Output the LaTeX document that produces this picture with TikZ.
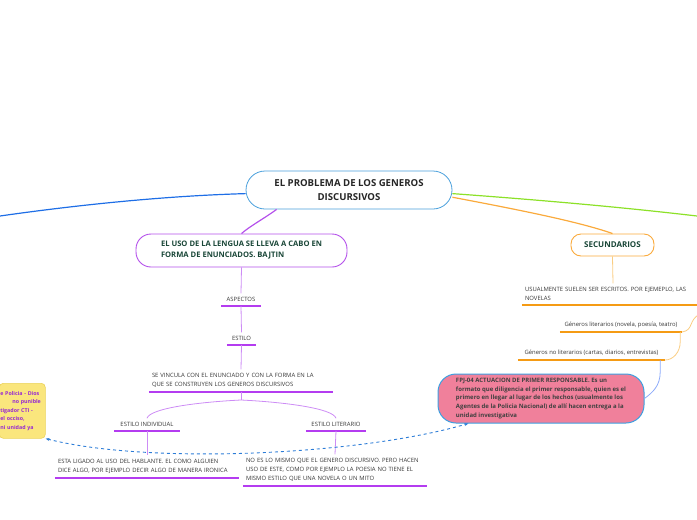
\documentclass[tikz,border=0pt]{standalone}
\usepackage{fontspec}
\setmainfont{Open Sans}
\usetikzlibrary{positioning, arrows.meta, calc}
\definecolor{rootblue}{RGB}{74, 160, 220}
\definecolor{branchblue}{RGB}{30, 110, 230}
\definecolor{branchgreen}{RGB}{140, 225, 40}
\definecolor{branchorange}{RGB}{250, 170, 60}
\definecolor{topicpurple}{RGB}{180, 80, 235}
\definecolor{linepurple}{RGB}{180, 60, 240}
\definecolor{connpurple}{RGB}{205, 140, 245}
\definecolor{lineorange}{RGB}{245, 155, 20}
\definecolor{connorange}{RGB}{250, 205, 130}
\definecolor{connblue}{RGB}{140, 170, 250}
\definecolor{darkgreen}{RGB}{25, 70, 55}
\definecolor{textgray}{RGB}{55, 55, 55}
\definecolor{notepink}{RGB}{240, 128, 155}
\definecolor{noteblue}{RGB}{60, 160, 225}
\definecolor{noteyellow}{RGB}{250, 230, 125}
\definecolor{yellowedge}{RGB}{235, 210, 90}
\definecolor{notepurple}{RGB}{150, 40, 210}
\definecolor{dashblue}{RGB}{45, 125, 215}

\begin{document}
\begin{tikzpicture}[
    x=1pt, y=-1pt,
    root/.style={draw=rootblue, line width=0.8pt, fill=white, rounded corners=19pt, minimum width=206pt, minimum height=38pt, align=center, font=\bfseries\fontsize{9.6}{14}\selectfont, text=black!85},
    topic/.style={draw=topicpurple, line width=0.9pt, fill=white, rounded corners=15pt, align=left, font=\bfseries\fontsize{7.6}{11}\selectfont, text=darkgreen},
    sectopic/.style={draw=branchorange, line width=0.9pt, fill=white, rounded corners=10pt, font=\bfseries\fontsize{8}{9}\selectfont, text=darkgreen},
    leaf/.style={inner xsep=3pt, inner ysep=4pt, align=left, font=\fontsize{5.9}{9}\selectfont, text=textgray},
    note/.style={draw=noteblue, fill=notepink, line width=1pt, rounded corners=18pt, align=left, font=\bfseries\fontsize{6}{8.7}\selectfont, text=black!75},
    yellownote/.style={draw=yellowedge, fill=noteyellow, line width=0.6pt, rounded corners=4pt, align=left, font=\bfseries\fontsize{5.3}{8.5}\selectfont, text=notepurple},
    pline/.style={linepurple, line width=1.6pt},
    oline/.style={lineorange, line width=1.6pt},
    pconn/.style={connpurple, line width=0.8pt},
    oconn/.style={connorange, line width=0.8pt},
    branch/.style={line width=1.2pt}
]
    \clip (0,0) rectangle (697,520);

    % Main topics
    \node[root] (root) at (349,190) {EL PROBLEMA DE LOS GENEROS\\DISCURSIVOS};
    \node[topic, minimum width=211pt, minimum height=33pt] (uso) at (241.5,250.5) {EL USO DE LA LENGUA SE LLEVA A CABO EN\\FORMA DE ENUNCIADOS. BAJTIN};
    \node[sectopic, minimum width=83pt, minimum height=22pt] (secundarios) at (612.5,245) {SECUNDARIOS};

    % Left branch leaves
    \node[leaf, minimum width=39pt, anchor=south] (aspectos) at (241,306) {ASPECTOS};
    \node[leaf, minimum width=29pt, anchor=south] (estilo) at (241.5,345) {ESTILO};
    \node[leaf, text width=178pt, anchor=south] (vincula) at (241,392) {SE VINCULA CON EL ENUNCIADO Y CON LA FORMA EN LA\\QUE SE CONSTRUYEN LOS GENEROS DISCURSIVOS};
    \node[leaf, minimum width=65pt, anchor=south] (individual) at (147,431) {ESTILO INDIVIDUAL};
    \node[leaf, text width=178pt, anchor=south] (ligado) at (147,478) {ESTA LIGADO AL USO DEL HABLANTE. EL COMO ALGUIEN\\DICE ALGO, POR EJEMPLO DECIR ALGO DE MANERA IRONICA};
    \node[leaf, minimum width=60pt, anchor=south] (literario) at (336,431) {ESTILO LITERARIO};
    \node[leaf, text width=178pt, anchor=south] (nomismo) at (335,486) {NO ES LO MISMO QUE EL GENERO DISCURSIVO. PERO HACEN\\USO DE ESTE, COMO POR EJEMPLO LA POESIA NO TIENE EL\\MISMO ESTILO QUE UNA NOVELA O UN MITO};

    % Right branch leaves
    \node[leaf, text width=176pt, anchor=south] (usualmente) at (613,305) {USUALMENTE SUELEN SER ESCRITOS. POR EJEMEPLO, LAS\\NOVELAS};
    \node[leaf, minimum width=122pt, anchor=south] (generoslit) at (621,332) {Géneros literarios (novela, poesía, teatro)};
    \node[leaf, minimum width=147pt, anchor=south] (generosno) at (591.5,360) {Géneros no literarios (cartas, diarios, entrevistas)};

    % Notes
    \node[note, minimum width=206pt, minimum height=49pt] (note) at (541,398.5) {FPJ-04 ACTUACION DE PRIMER RESPONSABLE. Es un\\formato que diligencia el primer responsable, quien es el\\primero en llegar al lugar de los hechos (usualmente los\\Agentes de la Policia Nacional) de allí hacen entrega a la\\unidad investigativa};
    \node[yellownote, text width=44pt, inner xsep=1pt, minimum height=55pt, anchor=north west] (yellow) at (-1,383) {e Policia - Dios\\\hspace*{12pt}no punible\\tigador CTI -\\el occiso,\\ni unidad ya};

    % Underlines
    \foreach \n in {aspectos,estilo,vincula,individual,ligado,literario,nomismo}
        \draw[pline] (\n.south west) -- (\n.south east);
    \foreach \n in {usualmente,generoslit,generosno}
        \draw[oline] (\n.south west) -- (\n.south east);

    % Branches from the root
    \coordinate (leftend) at (0,216);
    \coordinate (rightend) at (697,216);
    \draw[branch, branchblue] (root.182) .. controls (160,196) and (70,206) .. (leftend);
    \draw[branch, branchgreen] (root.358) .. controls (540,200) and (620,207) .. (rightend);
    \draw[branch, branchorange] (root.356) .. controls (520,210) and (580,222) .. (secundarios.north);
    \draw[branch, topicpurple] (root.195) .. controls (265,218) and (250,226) .. (uso.north);

    % Left branch connectors
    \draw[pconn] (uso.south) -- (aspectos.north);
    \draw[pconn] (aspectos.south) -- (estilo.north);
    \draw[pconn] (estilo.south) -- (vincula.north);
    \draw[pconn] (vincula.south) -- ++(0,8) coordinate (fork);
    \draw[pconn] (fork) .. controls (200,402) and (150,408) .. (individual.north);
    \draw[pconn] (fork) .. controls (282,402) and (333,408) .. (literario.north);
    \draw[pconn] (individual.south) -- (ligado.north);
    \draw[pconn] (literario.south) -- (nomismo.north);

    % Right branch connectors
    \coordinate (rightcut) at (700,314);
    \draw[oconn] (secundarios.south) -- (usualmente.north);
    \draw[oconn] (rightcut) .. controls (688,320) and (694,330) .. (generoslit.south east);
    \draw[oconn] ([xshift=-2pt]generoslit.south east) -- ++(0,10) .. controls +(0,10) and +(8,0) .. (generosno.south east);
    \draw[connblue, line width=0.8pt] ([xshift=-5pt]generosno.south east) -- ++(0,12) .. controls +(0,14) and +(8,-6) .. (note.east);

    % Relation between the notes
    \draw[dashblue, line width=0.9pt, dashed, {Stealth[length=4pt]}-{Stealth[length=4pt]}] (yellow.south east) .. controls (150,465) and (360,455) .. (note.199);
\end{tikzpicture}
\end{document}
